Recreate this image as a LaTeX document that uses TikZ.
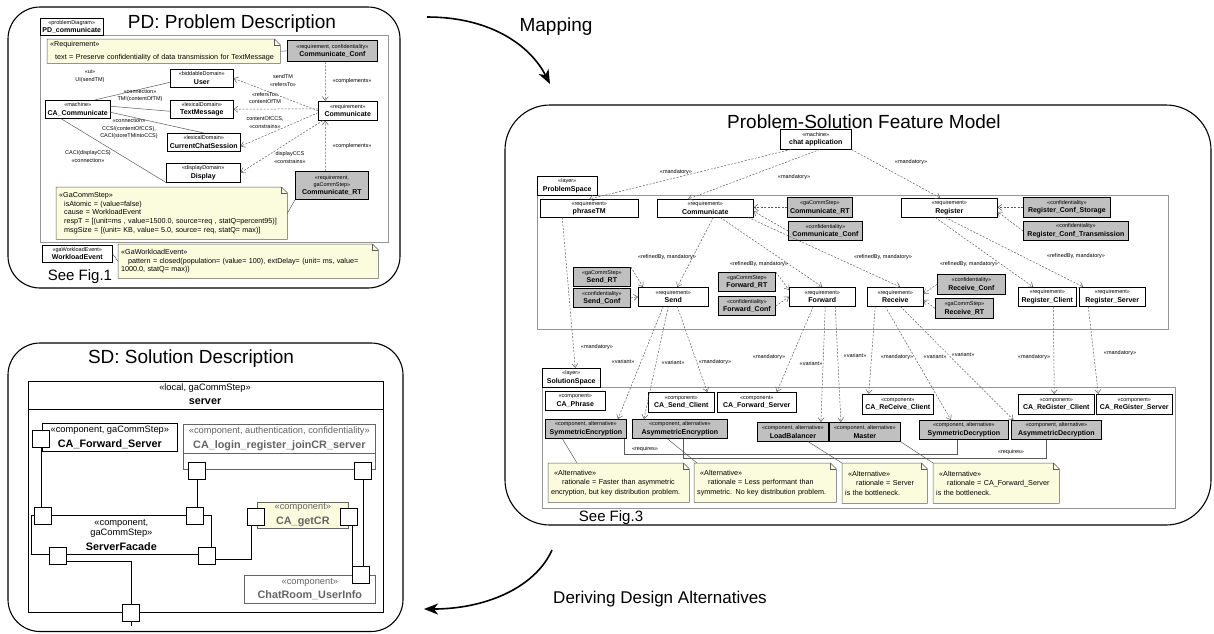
\documentclass[tikz,border=0pt]{standalone}
\usepackage{fontspec}
\setmainfont{Liberation Sans}
\usepackage{tikz}
\usetikzlibrary{arrows.meta}
\definecolor{boxgray}{RGB}{192,192,192}
\definecolor{noteyellow}{RGB}{251,251,222}
\definecolor{framegray}{RGB}{150,150,150}
\definecolor{wiregray}{RGB}{90,90,90}
\definecolor{textgray}{RGB}{100,100,100}
\newcommand{\nm}[1]{{\fontsize{7}{8}\selectfont\bfseries #1}}
\newcommand{\snm}[1]{{\fontsize{10.8}{12}\selectfont\bfseries #1}}
\newcommand{\notefold}[1]{%
  \fill[white] ([xshift=-6pt]#1.north east) -- (#1.north east) -- ([yshift=-6pt]#1.north east) -- cycle;
  \draw[notebd] (#1.north west) -- ([xshift=-6pt]#1.north east) -- ([yshift=-6pt]#1.north east) -- (#1.south east) -- (#1.south west) -- cycle;
  \draw[notebd] ([xshift=-6pt]#1.north east) |- ([yshift=-6pt]#1.north east);}

\begin{document}
\begin{tikzpicture}[x=1pt, y=-1pt,
  panel/.style={draw, line width=1.1pt, rounded corners=#1},
  ubox/.style 2 args={draw, fill=white, line width=0.5pt, anchor=north west, minimum width=#1pt, minimum height=#2pt, inner sep=0pt, align=center, font=\fontsize{5.5}{8.5}\selectfont},
  gbox/.style 2 args={ubox={#1}{#2}, fill=boxgray, line width=0.8pt},
  areaframe/.style={draw=framegray, line width=0.7pt},
  dep/.style={draw=wiregray, line width=0.5pt, dash pattern=on 2pt off 1.5pt, -{Straight Barb[length=4pt, width=6pt]}},
  wire/.style={draw=wiregray, line width=0.5pt},
  lbl/.style={inner sep=0pt, align=center, font=\fontsize{5.5}{7.5}\selectfont},
  note/.style 2 args={fill=noteyellow, anchor=north west, text width=#1pt, minimum height=#2pt, inner xsep=3pt, inner ysep=0pt, align=left, font=\fontsize{7.2}{9.5}\selectfont},
  notebd/.style={draw=wiregray, line width=0.5pt},
  big/.style={inner sep=0pt, font=\fontsize{19}{22}\selectfont},
  seefig/.style={inner sep=0pt, font=\fontsize{15}{18}\selectfont},
  bigarrow/.style={line width=1.6pt, -{Stealth[length=14pt, width=11pt, inset=4pt]}},
  sbox/.style 2 args={draw, fill=white, line width=0.7pt, anchor=north west, minimum width=#1pt, minimum height=#2pt, inner sep=0pt, align=center, font=\fontsize{9.3}{14.5}\selectfont},
  port/.style={draw, fill=white, line width=0.7pt, anchor=north west, minimum size=17pt, inner sep=0pt},
  sdwire/.style={line width=0.7pt}]
\useasboundingbox (0,0) rectangle (1214,633);

\draw[panel=32pt] (8,7) rectangle (400,288);
\node[big] (pdtitle) at (232,24) {PD: Problem Description};
\draw[areaframe] (40,35) rectangle (388,242);
\node[ubox={63}{17}] (pdtab) at (40,18) {«problemDiagram»\\\nm{PD\_communicate}};
\node[note={227}{24}, font=\fontsize{7.2}{13}\selectfont] (reqnote) at (47,39) {«Requirement»\\\hspace*{5pt}text = Preserve confidentiality of data transmission for TextMessage};
\notefold{reqnote}
\node[gbox={90}{21}] (pdconf) at (287,40) {«requirement, confidentiality»\\\nm{Communicate\_Conf}};
\node[ubox={63}{18}] (user) at (170,69) {«biddableDomain»\\\nm{User}};
\node[ubox={63}{18}] (txtmsg) at (170,100) {«lexicalDomain»\\\nm{TextMessage}};
\node[ubox={65}{18}] (cacomm) at (45,100) {«machine»\\\nm{CA\_Communicate}};
\node[ubox={59}{19}] (pdcomm) at (318,101) {«requirement»\\\nm{Communicate}};
\node[ubox={73}{18}] (ccs) at (167,133) {«lexicalDomain»\\\nm{CurrentChatSession}};
\node[ubox={74}{19}] (display) at (166,163) {«displayDomain»\\\nm{Display}};
\node[gbox={73}{28}, font=\fontsize{5.5}{7.5}\selectfont] (pdrt) at (295,171) {«requirement,\\gaCommStep»\\\nm{Communicate\_RT}};
\node[note={225}{52}, font=\fontsize{7.2}{8.7}\selectfont] (ganote) at (56,187) {«GaCommStep»\\
  \hspace*{5pt}isAtomic = (value=false)\\
  \hspace*{5pt}cause = WorkloadEvent\\
  \hspace*{5pt}respT = [(unit=ms , value=1500.0, source=req , statQ=percent95)]\\
  \hspace*{5pt}msgSize = [(unit= KB, value= 5.0, source= req, statQ= max)]};
\notefold{ganote}
\node[ubox={70}{17}] (wlev) at (42,245) {«gaWorkloadEvent»\\\nm{WorkloadEvent}};
\node[note={254}{34}, font=\fontsize{7.2}{8.5}\selectfont] (wlnote) at (118,244) {«GaWorkloadEvent»\\
  \hspace*{7pt}pattern = closed(population= (value= 100), extDelay= (unit= ms, value=\\
  1000.0, statQ= max))};
\notefold{wlnote}
\node[seefig] (seefig1) at (80,277) {See Fig.1};

\draw[wire] ([xshift=17pt]cacomm.north) -- ([yshift=-4pt]user.west);
\draw[wire] ([yshift=3pt]cacomm.east) -- ([yshift=-2pt]txtmsg.west);
\draw[wire] ([yshift=-3pt]cacomm.east) -- (ccs.north);
\draw[wire] ([xshift=-17pt]cacomm.south) -- (display.south west);
\draw[dep] (pdcomm.west) -- (user.east);
\draw[dep] ([yshift=2pt]pdcomm.west) -- (txtmsg.east);
\draw[dep] ([yshift=-2pt]pdcomm.west) -- ([yshift=-4pt]ccs.east);
\draw[dep] ([xshift=-25pt]pdcomm.south) -- (display.east);
\draw[dep] ([xshift=-7pt]pdconf.south) -- ([xshift=-22.5pt]pdcomm.north);
\draw[dep] ([xshift=-6.5pt]pdrt.north) -- ([xshift=-22.5pt]pdcomm.south);
\draw[wire] (reqnote.east) -- (pdconf.west);
\draw[wire] (ganote.east) -- (pdrt.south west);
\draw[wire] (wlev.east) -- (wlnote.west);
\node[lbl] (lui) at (90,76) {«ui»\\UI(sendTM)};
\node[lbl] (lcon1) at (140,95.5) {«connection»\\TM!(contentOfTM)};
\node[lbl] (lcon2) at (129,129) {«connection»\\CCS!(contentOfCCS),\\CACI(storeTMintoCCS)};
\node[lbl] (lcon3) at (88,156.5) {CACI(displayCCS)\\«connection»};
\node[lbl] (lref1) at (283,80.5) {sendTM\\«refersTo»};
\node[lbl] (lref2) at (265,98) {«refersTo»\\contentOfTM};
\node[lbl] (lcons1) at (265,122.5) {contentOfCCS,\\«constrains»};
\node[lbl] (lcons2) at (290,157.5) {displayCCS\\«constrains»};
\node[lbl] (lcomp1) at (352,81) {«complements»};
\node[lbl] (lcomp2) at (352,146) {«complements»};

\coordinate (mapfrom) at (427,17);
\coordinate (mapto) at (550,84);
\draw[bigarrow] (mapfrom) .. controls (490,17) and (530,45) .. (mapto);
\node[big] (maplbl) at (556,27) {Mapping};

\draw[panel=45pt] (505,105) rectangle (1211,525);
\node[big] (fmtitle) at (864,122) {Problem-Solution Feature Model};
\node[ubox={71}{20}] (chat) at (780,129) {«machine»\\\nm{chat application}};
\draw[areaframe] (537,195) rectangle (1168,329);
\node[ubox={60}{19}] (pstab) at (537,176) {«layer»\\\nm{ProblemSpace}};
\node[ubox={98}{18}] (phrase) at (540,199) {«requirement»\\\nm{phraseTM}};
\node[ubox={96}{18}] (comm) at (657,199) {«requirement»\\\nm{Communicate}};
\node[gbox={65}{20}] (commrt) at (787,197) {«gaCommStep»\\\nm{Communicate\_RT}};
\node[gbox={74}{19}] (commconf) at (788,221) {«confidentiality»\\\nm{Communicate\_Conf}};
\node[ubox={96}{19}] (reg) at (901,198) {«requirement»\\\nm{Register}};
\node[gbox={87}{20}] (regstor) at (1023,197) {«confidentiality»\\\nm{Register\_Conf\_Storage}};
\node[gbox={105}{19}] (regtrans) at (1023,221) {«confidentiality»\\\nm{Register\_Conf\_Transmission}};
\node[gbox={57}{19}] (sendrt) at (573,267) {«gaCommStep»\\\nm{Send\_RT}};
\node[gbox={57}{19}] (sendconf) at (573,288) {«confidentiality»\\\nm{Send\_Conf}};
\node[ubox={70}{19}] (send) at (638,287) {«requirement»\\\nm{Send}};
\node[gbox={57}{19}] (fwdrt) at (718,272) {«gaCommStep»\\\nm{Forward\_RT}};
\node[gbox={57}{19}] (fwdconf) at (718,296) {«confidentiality»\\\nm{Forward\_Conf}};
\node[ubox={66}{19}] (fwd) at (789,287) {«requirement»\\\nm{Forward}};
\node[ubox={56}{19}] (recv) at (867,287) {«requirement»\\\nm{Receive}};
\node[gbox={68}{20}] (recvconf) at (937,274) {«confidentiality»\\\nm{Receive\_Conf}};
\node[gbox={58}{20}] (recvrt) at (935,298) {«gaCommStep»\\\nm{Receive\_RT}};
\node[ubox={58}{19}] (regcli) at (1018,287) {«requirement»\\\nm{Register\_Client}};
\node[ubox={66}{19}] (regsrv) at (1079,287) {«requirement»\\\nm{Register\_Server}};

\draw[areaframe] (542,387) rectangle (1175,508);
\node[ubox={58}{19}] (sstab) at (542,368) {«layer»\\\nm{SolutionSpace}};
\node[ubox={60}{19}] (caphrase) at (545,391) {«component»\\\nm{CA\_Phrase}};
\node[ubox={66}{20}] (casend) at (648,392) {«component»\\\nm{CA\_Send\_Client}};
\node[ubox={79}{20}] (cafwd) at (717,392) {«component»\\\nm{CA\_Forward\_Server}};
\node[ubox={71}{20}] (carecv) at (862,394) {«component»\\\nm{CA\_ReCeive\_Client}};
\node[ubox={76}{20}] (caregcli) at (1018,394) {«component»\\\nm{CA\_ReGister\_Client}};
\node[ubox={76}{20}] (caregsrv) at (1096,394) {«component»\\\nm{CA\_ReGister\_Server}};
\node[gbox={81}{19}] (symenc) at (545,419) {«component, alternative»\\\nm{SymmetricEncryption}};
\node[gbox={95}{19}] (asymenc) at (632,419) {«component, alternative»\\\nm{AsymmetricEncryption}};
\node[gbox={71}{19}] (lb) at (757,422) {«component, alternative»\\\nm{LoadBalancer}};
\node[gbox={71}{19}] (master) at (829,422) {«component, alternative»\\\nm{Master}};
\node[gbox={89}{19}] (symdec) at (919,420) {«component, alternative»\\\nm{SymmetricDecryption}};
\node[gbox={90}{19}] (asymdec) at (1011,420) {«component, alternative»\\\nm{AsymmetricDecryption}};
\node[note={135}{39}] (alt1) at (548,463) {\hspace*{3pt}«Alternative»\\\hspace*{11pt}rationale = Faster than asymmetric\\encryption, but key distribution problem.};
\node[note={136}{39}] (alt2) at (694,463) {\hspace*{3pt}«Alternative»\\\hspace*{11pt}rationale = Less performant than\\symmetric. No key distribution problem.};
\node[note={79}{40}] (alt3) at (842,463) {\hspace*{3pt}«Alternative»\\\hspace*{11pt}rationale = Server\\is the bottleneck.};
\node[note={120}{40}] (alt4) at (933,463) {\hspace*{3pt}«Alternative»\\\hspace*{11pt}rationale = CA\_Forward\_Server\\is the bottleneck.};
\notefold{alt1}
\notefold{alt2}
\notefold{alt3}
\notefold{alt4}
\node[seefig] (seefig3) at (611,518) {See Fig.3};

\draw[dep] ([xshift=-25pt]chat.south) -- (phrase.north);
\draw[dep] ([xshift=4pt]chat.south) -- ([xshift=-17pt]comm.north);
\draw[dep] (chat.south east) -- ([xshift=-9pt]reg.north);
\draw[dep] (commrt.west) -- (comm.east |- commrt.west);
\draw[dep] (commconf.west) -- ([yshift=-3pt]comm.east);
\draw[dep] (regstor.west) -- (reg.east |- regstor.west);
\draw[dep] (regtrans.west) -- ([yshift=-4pt]reg.east);
\draw[dep] ([xshift=8pt]comm.south) -- ([xshift=4pt]send.north);
\draw[dep] ([xshift=15pt]comm.south) -- (fwd.north);
\draw[dep] ([xshift=43pt]comm.south) -- ([xshift=5pt]recv.north);
\draw[dep] ([xshift=-14pt]reg.south) -- ([xshift=-14pt]regcli.north);
\draw[dep] ([xshift=-4pt]reg.south) -- ([xshift=-29pt]regsrv.north);
\draw[dep] (sendrt.north east) -- ([xshift=5pt]send.north west);
\draw[dep] (sendconf.east) -- (send.west);
\draw[dep] (fwdrt.north east) -- ([yshift=-3pt]fwd.north west);
\draw[dep] (fwdconf.east) -- (fwd.west);
\draw[dep] (recvconf.west) -- ([yshift=3pt]recv.east);
\draw[dep] (recvrt.west) -- ([yshift=-3pt]recv.east);
\draw[dep] ([xshift=-27pt]phrase.south) -- ([xshift=4pt]sstab.north);
\draw[dep] ([xshift=-10pt]send.south) -- ([xshift=32pt]symenc.north);
\draw[dep] ([xshift=-5pt]send.south) -- ([xshift=-36pt]asymenc.north);
\draw[dep] ([xshift=4pt]send.south) -- ([xshift=26pt]casend.north);
\draw[dep] ([xshift=-9pt]fwd.south) -- ([xshift=20pt]cafwd.north);
\draw[dep] ([xshift=3pt]fwd.south) -- ([xshift=28pt]lb.north);
\draw[dep] ([xshift=13pt]fwd.south) -- ([xshift=-24pt]master.north);
\draw[dep] ([xshift=-20pt]recv.south) -- ([xshift=-29pt]carecv.north);
\draw[dep] ([xshift=-10pt]recv.south) -- ([xshift=-13pt]symdec.north);
\draw[dep] ([xshift=5pt]recv.south) -- ([xshift=-43pt]asymdec.north);
\draw[dep] ([xshift=6pt]regcli.south) -- ([xshift=-2pt]caregcli.north);
\draw[dep] ([xshift=-24pt]regsrv.south) -- ([xshift=-36pt]caregsrv.north);
\draw[wire] ([xshift=38.5pt]symenc.south) -- ++(0,15) -| ([xshift=-6.5pt]symdec.south);
\draw[wire] ([xshift=3.5pt]asymenc.south) -- ++(0,19) -| ([xshift=-10pt]asymdec.south);
\draw[wire] ([xshift=-23.5pt]symenc.south) -- ([xshift=29pt]alt1.north west);
\draw[wire] ([xshift=-12.5pt]asymenc.south) -- ([xshift=3pt]alt2.north west);
\draw[wire] ([xshift=15.5pt]lb.south) -- (alt3.north west);
\draw[wire] (master.south east) -- (alt4.north west);
\node[lbl] (lm1) at (676,172) {«mandatory»};
\node[lbl] (lm2) at (794,177) {«mandatory»};
\node[lbl] (lm3) at (911,162) {«mandatory»};
\node[lbl] (lr1) at (667,257) {«refinedBy, mandatory»};
\node[lbl] (lr2) at (759,264) {«refinedBy, mandatory»};
\node[lbl] (lr3) at (883,257) {«refinedBy, mandatory»};
\node[lbl] (lr4) at (969,264) {«refinedBy, mandatory»};
\node[lbl] (lr5) at (1076,256) {«refinedBy, mandatory»};
\node[lbl] (lm4) at (597,347) {«mandatory»};
\node[lbl] (lv1) at (623,362) {«variant»};
\node[lbl] (lv2) at (673,363) {«variant»};
\node[lbl] (lm5) at (715,362) {«mandatory»};
\node[lbl] (lm6) at (769,357) {«mandatory»};
\node[lbl] (lv3) at (811,364) {«variant»};
\node[lbl] (lv4) at (855,356) {«variant»};
\node[lbl] (lm7) at (897,357) {«mandatory»};
\node[lbl] (lv5) at (935,357) {«variant»};
\node[lbl] (lv6) at (963,355) {«variant»};
\node[lbl] (lm8) at (1034,357) {«mandatory»};
\node[lbl] (lm9) at (1120,353) {«mandatory»};
\node[lbl] (lq1) at (645,449) {«requires»};
\node[lbl] (lq2) at (1011,452) {«requires»};

\coordinate (derfrom) at (552,550);
\coordinate (derto) at (424,609);
\draw[bigarrow] (derfrom) .. controls (535,588) and (485,609) .. (derto);
\node[big, font=\fontsize{17}{20}\selectfont] (derlbl) at (660,599) {Deriving Design Alternatives};

\draw[panel=32pt] (8,343) rectangle (403,631.5);
\node[big] (sdtitle) at (191,359) {SD: Solution Description};
\draw[line width=0.7pt] (28,381) rectangle (383,612);
\draw[line width=0.7pt] (28,409) -- (383,409);
\node[inner sep=0pt, font=\fontsize{9.3}{10}\selectfont] (srvst) at (205,388) {«local, gaCommStep»};
\node[inner sep=0pt] (srvname) at (205,402) {\snm{server}};
\node[sbox={135}{28}] (cafs) at (42,423) {«component, gaCommStep»\\\snm{CA\_Forward\_Server}};
\node[sbox={192}{29}, draw=textgray, text=textgray] (calogin) at (183,424) {«component, authentication, confidentiality»\\\snm{CA\_login\_register\_joinCR\_server}};
\draw[draw=textgray, line width=0.7pt] (calogin.south west) rectangle ++(192,16);
\node[sbox={180}{39}, font=\fontsize{9.3}{10}\selectfont] (sf) at (31,515) {«component,\\gaCommStep»\\[5pt]\snm{ServerFacade}};
\node[sbox={91}{26}, fill=noteyellow, draw=textgray, text=textgray] (getcr) at (257,502) {«component»\\\snm{CA\_getCR}};
\node[sbox={131}{28}, draw=textgray, text=textgray] (chatroom) at (244,575) {«component»\\\snm{ChatRoom\_UserInfo}};
\node[port] (pfs) at (32,430) {};
\node[port] (pll) at (188,462) {};
\node[port] (plr) at (354,462) {};
\node[port] (psftl) at (34,507) {};
\node[port] (psftr) at (186,507) {};
\node[port] (psfbl) at (49,547) {};
\node[port] (psfbr) at (198,547) {};
\node[port] (pgl) at (247,508) {};
\node[port] (pgr) at (340,508) {};
\node[port] (pcr) at (352,566) {};
\node[port] (pbot) at (122,604) {};
\coordinate (gw) at ([xshift=3.5pt]pgr.south);
\draw[sdwire] (pfs.south) -- (pfs.south |- psftl.north);
\draw[sdwire] (pll.south) -- (pll.south |- psftr.north);
\draw[sdwire] (plr.south) -- (plr.south |- pcr.north);
\draw[sdwire] (gw) -- (gw |- pcr.north);
\draw[sdwire] ([yshift=-3pt]psfbr.east) -| ([xshift=-4.5pt]pgl.south);
\draw[sdwire] ([yshift=-5pt]psfbl.east) -| (pbot.north);
\draw[sdwire] (pbot.south) -- ++(0,4);
\end{tikzpicture}
\end{document}
